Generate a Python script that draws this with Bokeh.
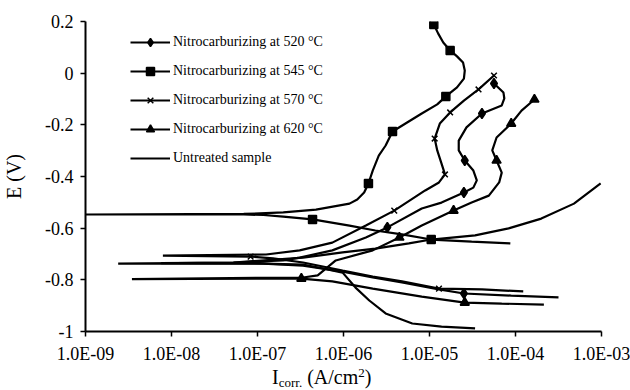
import numpy as np
from bokeh.plotting import figure
from bokeh.layouts import column
from bokeh.models import Range1d, FixedTicker, Legend, LegendItem, Div
from bokeh.embed import file_html
from bokeh.resources import INLINE

# ---- data: log10 of current density (A/cm2) and potential E (V) ----
logI_520 = [-3.50, -4.05, -4.60, -4.89, -5.32, -5.66, -6.01, -6.47, -6.93, -8.12, -7.28, -6.70, -6.51, -6.13,
            -5.74, -5.49, -5.09, -4.86, -4.60, -4.49, -4.45, -4.49, -4.59, -4.66, -4.66, -4.57, -4.39, -4.16,
            -4.13, -4.14, -4.25]
E_520 = [-0.868, -0.861, -0.853, -0.837, -0.810, -0.791, -0.768, -0.745, -0.737, -0.735, -0.733, -0.725, -0.714,
         -0.686, -0.636, -0.597, -0.524, -0.501, -0.462, -0.443, -0.415, -0.377, -0.338, -0.299, -0.261, -0.210,
         -0.156, -0.125, -0.098, -0.075, -0.040]
mk_logI_520 = [-4.60, -5.49, -4.60, -4.59, -4.39, -4.25]
mk_E_520 = [-0.853, -0.597, -0.462, -0.338, -0.156, -0.040]

logI_545 = [-4.06, -4.51, -4.98, -5.32, -5.63, -5.93, -6.36, -6.70, -6.93, -7.16, -9.00, -7.16, -6.70, -6.32,
            -5.93, -5.84, -5.76, -5.71, -5.66, -5.59, -5.51, -5.43, -5.26, -5.09, -4.91, -4.81, -4.68, -4.60,
            -4.59, -4.61, -4.68, -4.76, -4.84, -4.90, -4.95]
E_545 = [-0.659, -0.652, -0.644, -0.624, -0.609, -0.590, -0.566, -0.555, -0.549, -0.547, -0.547, -0.545, -0.539,
         -0.528, -0.505, -0.489, -0.462, -0.427, -0.377, -0.319, -0.280, -0.226, -0.191, -0.156, -0.121, -0.090,
         -0.055, -0.021, 0.010, 0.041, 0.065, 0.088, 0.119, 0.154, 0.188]
mk_logI_545 = [-4.98, -6.36, -5.71, -5.43, -4.81, -4.76, -4.95]
mk_E_545 = [-0.644, -0.566, -0.427, -0.226, -0.090, 0.088, 0.188]

logI_570 = [-3.91, -4.39, -4.89, -5.32, -5.66, -6.01, -6.47, -6.82, -7.08, -8.10, -6.90, -6.51, -6.13, -5.74,
            -5.41, -5.05, -4.89, -4.82, -4.86, -4.91, -4.94, -4.88, -4.76, -4.60, -4.43, -4.25]
E_570 = [-0.845, -0.837, -0.834, -0.806, -0.787, -0.764, -0.733, -0.717, -0.710, -0.706, -0.702, -0.686, -0.656,
         -0.590, -0.532, -0.454, -0.423, -0.392, -0.350, -0.299, -0.253, -0.195, -0.152, -0.106, -0.063, -0.009]
mk_logI_570 = [-4.89, -7.08, -5.41, -4.82, -4.94, -4.76, -4.43, -4.25]
mk_E_570 = [-0.834, -0.710, -0.532, -0.392, -0.253, -0.152, -0.063, -0.009]

logI_620 = [-3.67, -4.16, -4.59, -5.09, -5.66, -6.13, -6.49, -8.46, -6.47, -6.30, -6.09, -5.66, -5.35, -5.09,
            -4.72, -4.51, -4.31, -4.19, -4.16, -4.22, -4.27, -4.22, -4.05, -3.93, -3.78]
E_620 = [-0.896, -0.892, -0.888, -0.865, -0.834, -0.806, -0.795, -0.797, -0.791, -0.783, -0.725, -0.686, -0.636,
         -0.590, -0.532, -0.501, -0.474, -0.423, -0.385, -0.338, -0.299, -0.249, -0.195, -0.145, -0.102]
mk_logI_620 = [-4.59, -6.49, -5.35, -4.72, -4.22, -4.05, -3.78]
mk_E_620 = [-0.888, -0.795, -0.636, -0.532, -0.338, -0.195, -0.102]

logI_untreated = [-4.47, -4.86, -5.20, -5.51, -5.70, -5.86, -6.01, -6.24, -6.47, -6.93, -8.62, -7.28, -6.47,
                  -6.01, -5.63, -5.24, -4.98, -4.47, -4.08, -3.70, -3.32, -3.01]
E_untreated = [-0.988, -0.981, -0.969, -0.930, -0.880, -0.830, -0.772, -0.756, -0.741, -0.737, -0.737, -0.733,
               -0.714, -0.694, -0.679, -0.659, -0.644, -0.628, -0.601, -0.563, -0.505, -0.427]

series_labels = ["Nitrocarburizing at 520 °C", "Nitrocarburizing at 545 °C",
                 "Nitrocarburizing at 570 °C", "Nitrocarburizing at 620 °C", "Untreated sample"]

x_ticks = [1e-9, 1e-8, 1e-7, 1e-6, 1e-5, 1e-4, 1e-3]
x_tick_labels = ["1.0E-09", "1.0E-08", "1.0E-07", "1.0E-06", "1.0E-05", "1.0E-04", "1.0E-03"]
y_ticks = [-1.0, -0.8, -0.6, -0.4, -0.2, 0.0, 0.2]
y_tick_labels = ["-1", "-0.8", "-0.6", "-0.4", "-0.2", "0", "0.2"]
y_title = "E (V)"
x_title_parts = ["I", "corr.", "(A/cm", "2", ")"]

FONT = "Liberation Serif"

p = figure(width=630, height=367, x_axis_type="log", title=None,
           x_range=Range1d(1e-9, 1e-3), y_range=Range1d(-1.0, 0.2),
           output_backend="svg", toolbar_location=None,
           min_border_left=81, min_border_right=29, min_border_top=21, min_border_bottom=36)
p.xgrid.visible = False
p.ygrid.visible = False
p.outline_line_color = None
p.background_fill_color = "white"
p.border_fill_color = "white"

for ax in (p.xaxis[0], p.yaxis[0]):
    ax.axis_line_width = 2
    ax.axis_line_color = "black"
    ax.major_tick_line_width = 1.5
    ax.major_tick_line_color = "black"
    ax.major_tick_out = 5
    ax.major_tick_in = 0
    ax.minor_tick_line_color = None
    ax.major_label_text_font = FONT
    ax.major_label_text_font_size = "18px"
    ax.major_label_text_color = "black"
    ax.major_label_standoff = 7

p.xaxis.ticker = FixedTicker(ticks=x_ticks, minor_ticks=[])
p.yaxis.ticker = FixedTicker(ticks=y_ticks, minor_ticks=[])
p.xaxis.major_label_overrides = dict(zip(x_ticks, x_tick_labels))
p.yaxis.major_label_overrides = dict(zip(y_ticks, y_tick_labels))

p.yaxis.axis_label = y_title
p.yaxis.axis_label_text_font = FONT
p.yaxis.axis_label_text_font_size = "20px"
p.yaxis.axis_label_text_font_style = "normal"
p.yaxis.axis_label_text_color = "black"
p.yaxis.axis_label_standoff = 17


def add_series(logI, E, mlogI=None, mE=None, marker=None, msize=8):
    r_line = p.line(10 ** np.array(logI), E, line_color="black", line_width=2.2)
    rs = [r_line]
    if marker is not None:
        r_sc = p.scatter(10 ** np.array(mlogI), mE, marker=marker, size=msize,
                         fill_color="black", line_color="black", line_width=1.5)
        rs.append(r_sc)
    return rs


r520 = add_series(logI_520, E_520, mk_logI_520, mk_E_520, "diamond", 10)
r545 = add_series(logI_545, E_545, mk_logI_545, mk_E_545, "square", 8)
r570 = add_series(logI_570, E_570, mk_logI_570, mk_E_570, "x", 8)
r620 = add_series(logI_620, E_620, mk_logI_620, mk_E_620, "triangle", 9)
ru = add_series(logI_untreated, E_untreated)

items = [LegendItem(label=lab, renderers=rs)
         for lab, rs in zip(series_labels, [r520, r545, r570, r620, ru])]
legend = Legend(items=items, location=(45, 163), padding=0, margin=0, spacing=9,
                glyph_width=40, glyph_height=20, label_height=20, label_standoff=3,
                label_text_font=FONT, label_text_font_size="14px", label_text_color="black",
                border_line_color=None, background_fill_alpha=0)
p.add_layout(legend)

# x-axis title as real HTML text (I with subscript "corr.", cm with superscript 2)
title_html = (
    '<div style="position:absolute; left:272px; top:0px; white-space:nowrap; '
    'font-family:\'Liberation Serif\'; font-size:20px; line-height:20px; color:black;">'
    '{0}<span style="font-size:13px; line-height:13px; position:relative; top:3px;">{1}</span> '
    '{2}<span style="font-size:13px; line-height:13px; position:relative; top:-7px;">{3}</span>{4}</div>'
).format(*x_title_parts)
xt = Div(text=title_html, width=630, height=23, margin=0,
         styles={"position": "relative", "overflow": "visible"})

layout = column(p, xt, spacing=0)
open("out.html", "w").write(file_html(layout, INLINE))
